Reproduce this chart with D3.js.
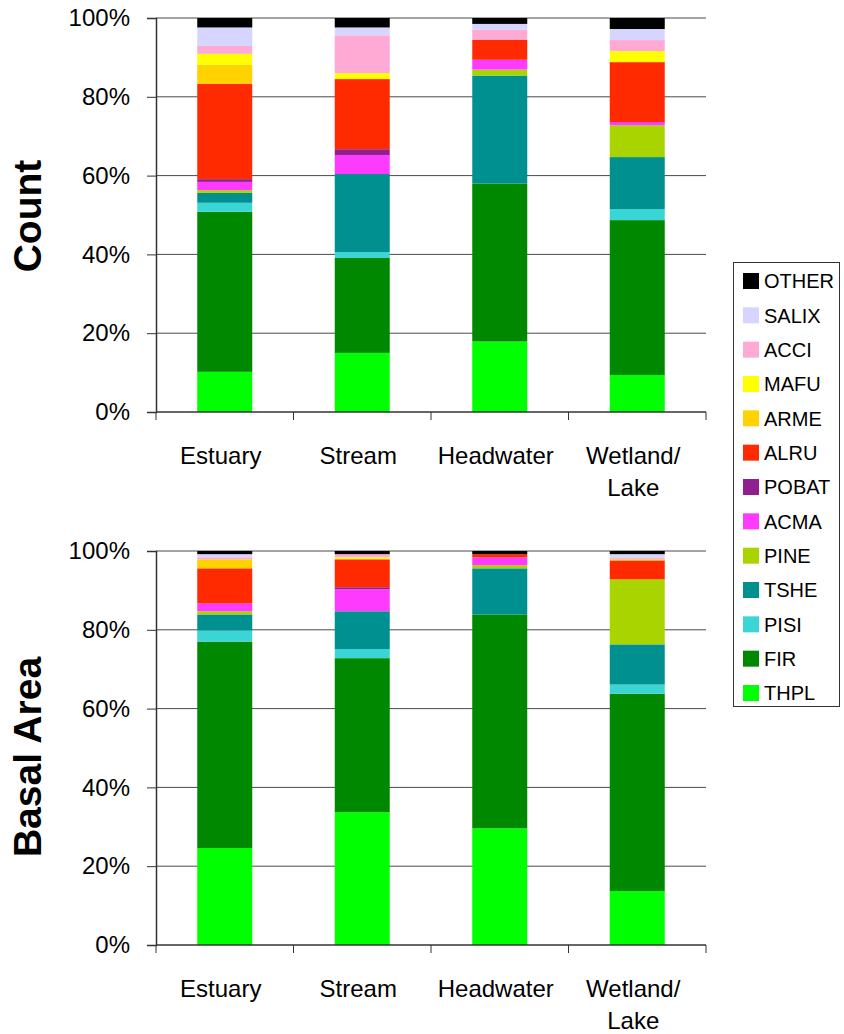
<!DOCTYPE html>
<html>
<head>
<meta charset="utf-8">
<script src="https://cdn.jsdelivr.net/npm/d3@7"></script>
<style>
  html, body { margin: 0; padding: 0; background: #fff; }
  svg { display: block; font-family: "Liberation Sans", Arial, sans-serif; }
</style>
</head>
<body>
<svg id="chart" width="844" height="1034"></svg>
<script>
// Sites along the x axis
const sites = ["Estuary", "Stream", "Headwater", "Wetland/Lake"];
// Species, stacked bottom to top
const species = ["THPL", "FIR", "PISI", "TSHE", "PINE", "ACMA", "POBAT", "ALRU", "ARME", "MAFU", "ACCI", "SALIX", "OTHER"];
const speciesColors = ["#00ff00", "#008800", "#3ad5d5", "#009090", "#aad400", "#ff3aff", "#90208f", "#ff2a00", "#ffd200", "#ffff00", "#ffaad4", "#d5d5ff", "#000000"];

// Percent of stems by species (same order as species)
const countEstuary   = [10.2, 40.6, 2.3,  2.5, 0.7, 2.1, 0.7, 24.2, 4.8, 2.8, 2.0, 4.7, 2.4];
const countStream    = [15.0, 24.1, 1.5, 19.8, 0.0, 4.8, 1.5, 17.8, 0.0, 1.5, 9.6, 2.0, 2.4];
const countHeadwater = [17.9, 40.1, 0.0, 27.4, 1.5, 2.5, 0.0,  5.1, 0.0, 0.0, 2.5, 1.5, 1.5];
const countWetland   = [ 9.4, 39.3, 2.8, 13.2, 8.1, 0.8, 0.0, 15.2, 0.0, 2.8, 2.8, 2.8, 2.8];

// Percent of basal area by species
const basalEstuary   = [24.6, 52.4, 2.8,  4.1,  0.8, 2.0, 0.0, 8.9, 2.3, 0.0, 0.5, 0.8, 0.8];
const basalStream    = [33.7, 39.1, 2.3,  9.6,  0.0, 5.6, 0.5, 7.1, 0.0, 0.5, 0.8, 0.0, 0.8];
const basalHeadwater = [29.6, 54.3, 0.0, 11.7,  0.8, 2.0, 0.0, 0.8, 0.0, 0.0, 0.0, 0.0, 0.8];
const basalWetland   = [13.7, 50.1, 2.3, 10.2, 16.5, 0.0, 0.0, 4.8, 0.3, 0.0, 0.3, 1.0, 0.8];

const yTicks = [0, 20, 40, 60, 80, 100];

const svg = d3.select("#chart");
const color = d3.scaleOrdinal().domain(species).range(speciesColors);

function rowsFrom(arrays) {
  return sites.map((s, i) => {
    const row = { site: s };
    species.forEach((k, j) => { row[k] = arrays[i][j]; });
    return row;
  });
}

function drawPanel(opts) {
  const { arrays, top, bottom, title, titleY } = opts;
  const left = 156, right = 706;
  const g = svg.append("g");

  const x = d3.scaleBand().domain(sites).range([left, right])
    .paddingInner(0.6).paddingOuter(0.3);
  const y = d3.scaleLinear().domain([0, 100]).range([bottom, top]);

  // horizontal gridlines
  g.append("g").selectAll("line").data(yTicks.filter(d => d > 0)).join("line")
    .attr("x1", left).attr("x2", right)
    .attr("y1", d => y(d)).attr("y2", d => y(d))
    .attr("stroke", "#4a4a4a").attr("stroke-width", 1);

  // stacked bars
  const stacked = d3.stack().keys(species)(rowsFrom(arrays));
  g.append("g").selectAll("g").data(stacked).join("g")
    .attr("fill", d => color(d.key))
    .selectAll("rect").data(d => d).join("rect")
    .attr("x", d => x(d.data.site))
    .attr("width", x.bandwidth())
    .attr("y", d => y(d[1]))
    .attr("height", d => Math.max(0, y(d[0]) - y(d[1])));

  // y axis
  const yAxis = d3.axisLeft(y).tickValues(yTicks).tickFormat(d => d + "%")
    .tickSize(9).tickPadding(17);
  const ya = g.append("g").attr("transform", `translate(${left},0)`).call(yAxis);
  ya.select(".domain").attr("stroke", "#333").attr("stroke-width", 1.5);
  ya.selectAll(".tick line").attr("stroke", "#333");
  ya.selectAll("text").attr("font-size", 24).attr("fill", "#000")
    .attr("font-family", "'Liberation Sans', Arial, sans-serif");

  // x axis with ticks at category boundaries
  const step = x.step();
  const bounds = d3.range(sites.length + 1).map(i => left + i * step);
  g.append("line").attr("x1", left).attr("x2", right)
    .attr("y1", bottom).attr("y2", bottom)
    .attr("stroke", "#333").attr("stroke-width", 1.5);
  g.append("g").selectAll("line").data(bounds).join("line")
    .attr("x1", d => d).attr("x2", d => d)
    .attr("y1", bottom).attr("y2", bottom + 8)
    .attr("stroke", "#333").attr("stroke-width", 1);

  // category labels
  const labels = g.append("g").selectAll("text").data(sites).join("text")
    .attr("x", d => x(d) + x.bandwidth() / 2 - 4)
    .attr("y", bottom + 52)
    .attr("text-anchor", "middle")
    .attr("font-size", 24).attr("fill", "#000");
  labels.each(function (d) {
    const parts = d.includes("/") ? [d.split("/")[0] + "/", d.split("/")[1]] : [d];
    const t = d3.select(this);
    parts.forEach((p, i) => {
      t.append("tspan").attr("x", t.attr("x")).attr("dy", i === 0 ? 0 : 32).text(p);
    });
  });

  // axis title
  svg.append("text")
    .attr("transform", `translate(41,${titleY}) rotate(-90)`)
    .attr("text-anchor", "middle")
    .attr("font-size", 39).attr("font-weight", "bold").attr("fill", "#000")
    .text(title);
}

drawPanel({
  arrays: [countEstuary, countStream, countHeadwater, countWetland],
  top: 18, bottom: 412, title: "Count", titleY: 216
});
drawPanel({
  arrays: [basalEstuary, basalStream, basalHeadwater, basalWetland],
  top: 551, bottom: 945, title: "Basal Area", titleY: 757
});

// legend, top entry first
const legend = svg.append("g");
legend.append("rect")
  .attr("x", 733.5).attr("y", 262.5).attr("width", 106).attr("height", 444)
  .attr("fill", "#fff").attr("stroke", "#333").attr("stroke-width", 1);
const legendOrder = species.slice().reverse();
const ly = d3.scalePoint().domain(legendOrder).range([281, 693]);
const items = legend.selectAll("g.item").data(legendOrder).join("g")
  .attr("class", "item")
  .attr("transform", d => `translate(743,${ly(d)})`);
items.append("rect").attr("x", 0).attr("y", -8).attr("width", 16).attr("height", 16)
  .attr("fill", d => color(d));
items.append("text").attr("x", 21).attr("y", 0).attr("dy", "0.36em")
  .attr("font-size", 20).attr("fill", "#000").text(d => d);
</script>
</body>
</html>
